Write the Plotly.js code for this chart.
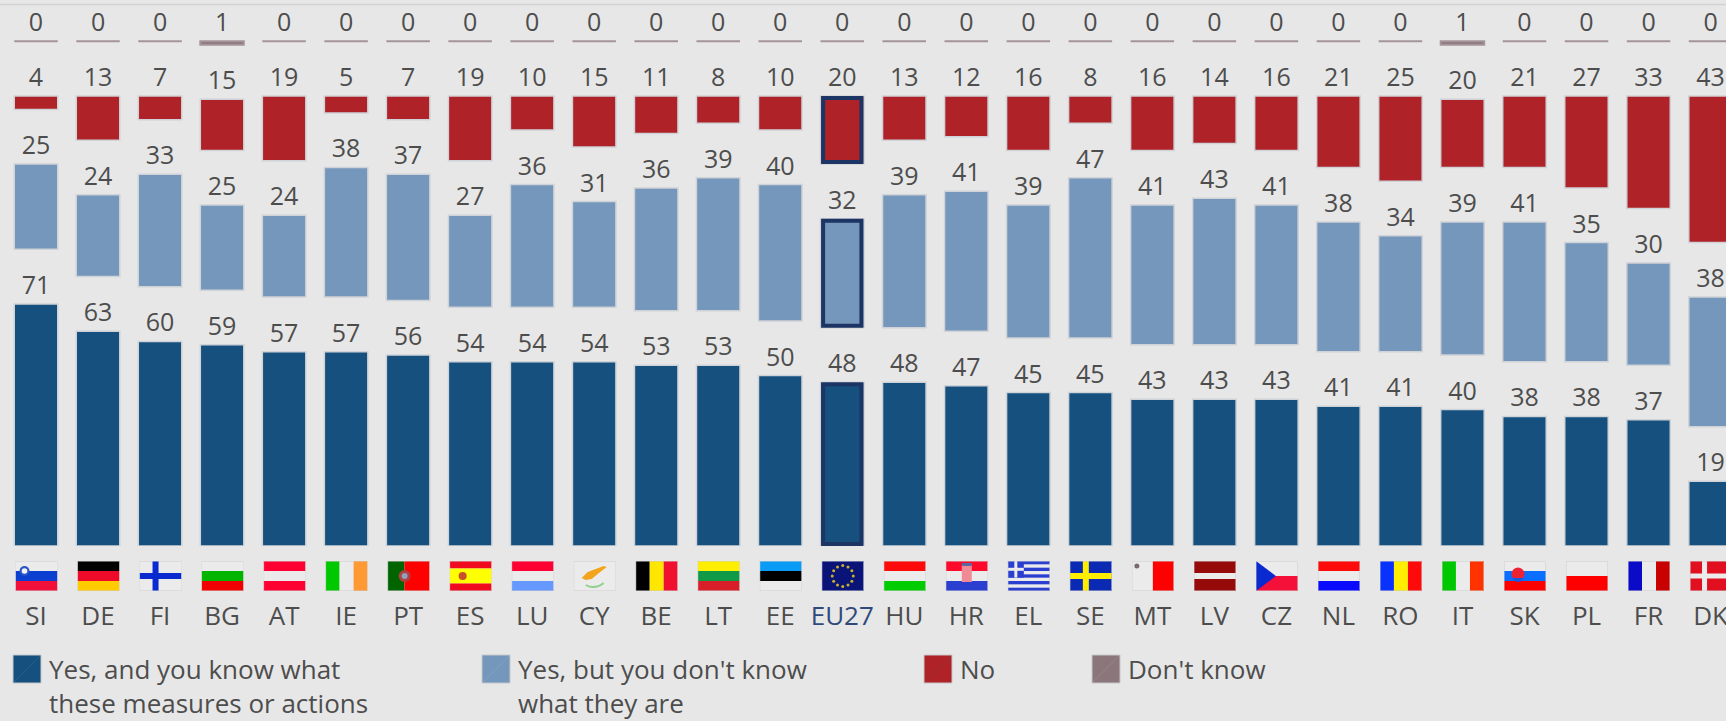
<!DOCTYPE html>
<html>
<head>
<meta charset="utf-8">
<script src="https://cdn.plot.ly/plotly-3.0.1.min.js"></script>
<style>
  html, body { margin: 0; padding: 0; background: #e7e7e7; overflow: hidden; }
  #chart { width: 1726px; height: 721px; }
</style>
</head>
<body>
<div id="chart"></div>
<script>
// Awareness of measures or actions, by country (%)
const countries = ['SI','DE','FI','BG','AT','IE','PT','ES','LU','CY','BE','LT','EE','EU27','HU','HR','EL','SE','MT','LV','CZ','NL','RO','IT','SK','PL','FR','DK'];
const yesKnow   = [71,63,60,59,57,57,56,54,54,54,53,53,50,48,48,47,45,45,43,43,43,41,41,40,38,38,37,19];
const yesUnsure = [25,24,33,25,24,38,37,27,36,31,36,39,40,32,39,41,39,47,41,43,41,38,34,39,41,35,30,38];
const no        = [4,13,7,15,19,5,7,19,10,15,11,8,10,20,13,12,16,8,16,14,16,21,25,20,21,27,33,43];
const dontKnow  = [0,0,0,1,0,0,0,0,0,0,0,0,0,0,0,0,0,0,0,0,0,0,0,1,0,0,0,0];

const seriesColors = { yesKnow: '#15507f', yesUnsure: '#7497bb', no: '#ae2228', dontKnow: '#8a767b' };
const swatchEdge = { yesKnow: '#275e8b', yesUnsure: '#82a2c3', no: '#9c2f33', dontKnow: '#958488' };

// Layout constants, in page pixels
const W = 1726, H = 721, AXIS_Y = 546, UNIT_PX = 3.41, GAP = 16;
const FIRST_X = 36, STEP_X = 62.02, BAR_PX = 43.5;
const HIGHLIGHT = 'EU27', HIGHLIGHT_COLOR = '#1c3564', HIGHLIGHT_LINE = 4, HALO = '#cfd2d6';
const TEXT = '#4d4d4d', FONT = '"Open Sans", sans-serif';

const px2x = p => p / W;
const px2y = p => (AXIS_Y - p) / AXIS_Y;

// Each response block floats above the previous one, separated by a blank band
const stack = [yesKnow, yesUnsure, no, dontKnow];
const keys = ['yesKnow', 'yesUnsure', 'no', 'dontKnow'];
const names = ['Yes, and you know what these measures or actions', "Yes, but you don't know what they are", 'No', "Don't know"];
const running = countries.map(() => 0);
const highlightIndex = countries.indexOf(HIGHLIGHT);
const shapes = [{
  type: 'line', xref: 'paper', yref: 'paper', layer: 'below',
  x0: 0, x1: 1, y0: px2y(4.5), y1: px2y(4.5),
  line: { color: '#d2d2d2', width: 1.5 }
}];

const traces = stack.map((values, s) => {
  const base = running.slice();
  values.forEach((v, i) => { running[i] += v + GAP; });
  const isDk = keys[s] === 'dontKnow';
  if (!isDk) {
    // The EU average is framed inside the edge of its bar
    const insetX = (HIGHLIGHT_LINE / 2 + 0.6) / STEP_X, insetY = (HIGHLIGHT_LINE / 2) / UNIT_PX;
    const half = BAR_PX / 2 / STEP_X;
    shapes.push({
      type: 'rect', xref: 'x', yref: 'y',
      x0: highlightIndex - half + insetX, x1: highlightIndex + half - insetX,
      y0: base[highlightIndex] + insetY, y1: base[highlightIndex] + values[highlightIndex] - insetY,
      fillcolor: 'rgba(0,0,0,0)', line: { color: HIGHLIGHT_COLOR, width: HIGHLIGHT_LINE }
    });
  }
  return {
    type: 'bar', name: names[s], x: countries, y: values, base: base,
    width: BAR_PX / STEP_X,
    text: values.map(String), textposition: 'outside', cliponaxis: false,
    textfont: { family: FONT, size: 25, color: TEXT },
    marker: {
      color: seriesColors[keys[s]],
      line: { color: isDk ? '#a5959a' : HALO, width: isDk ? 2 : 1.5 }
    },
    hoverinfo: 'x+y', showlegend: false
  };
});

// Flags, drawn on a 42 x 30 grid
const WHITE = '#ebebeb';
const hBands = (cols, w) => {
  const total = (w || cols.map(() => 1)).reduce((a, b) => a + b, 0);
  let y = 0;
  return cols.map((c, i) => {
    const h = 30 * (w ? w[i] : 1) / total;
    const r = `<rect x="0" y="${y}" width="42" height="${h}" fill="${c}"/>`;
    y += h;
    return r;
  }).join('');
};
const vBands = (cols, w) => {
  const total = (w || cols.map(() => 1)).reduce((a, b) => a + b, 0);
  let x = 0;
  return cols.map((c, i) => {
    const b = 42 * (w ? w[i] : 1) / total;
    const r = `<rect x="${x}" y="0" width="${b}" height="30" fill="${c}"/>`;
    x += b;
    return r;
  }).join('');
};
const rect = (x, y, w, h, c) => `<rect x="${x}" y="${y}" width="${w}" height="${h}" fill="${c}"/>`;
const euStars = Array.from({ length: 12 }, (_, k) => {
  const a = k * Math.PI / 6;
  return `<circle cx="${21 + 10.5 * Math.cos(a)}" cy="${15 + 10.5 * Math.sin(a)}" r="1.5" fill="#c9b22a"/>`;
}).join('');
const greekStripes = Array.from({ length: 5 }, (_, k) => rect(0, k * 6.67, 42, 3.33, '#2a3fd0')).join('');

const flags = {
  SI: hBands([WHITE, '#0a3fd0', '#f0103a']) + '<circle cx="9" cy="10" r="5" fill="#2a55c8"/><circle cx="9" cy="10" r="2.8" fill="#f4f4f4"/>',
  DE: hBands(['#000000', '#f00a2a', '#ffcc00']),
  FI: rect(0, 0, 42, 30, WHITE) + rect(13, 0, 6, 30, '#0a2ad0') + rect(0, 12, 42, 6, '#0a2ad0'),
  BG: hBands([WHITE, '#00b400', '#f00000']),
  AT: hBands(['#ff0033', WHITE, '#ff0033']),
  IE: vBands(['#00c800', WHITE, '#ff9933']),
  PT: vBands(['#006400', '#ff0000'], [2, 3]) + '<circle cx="17" cy="15" r="6" fill="#b04040"/><circle cx="17" cy="15" r="3" fill="#8fa0c0"/>',
  ES: hBands(['#f00a1e', '#ffff00', '#f00a1e'], [1, 2, 1]) + '<circle cx="13" cy="15" r="4" fill="#c8502a"/>',
  LU: hBands(['#ff0033', WHITE, '#6699ff']),
  CY: rect(0, 0, 42, 30, WHITE) + '<path d="M8 17 L14 11 L30 5 L33 6 L24 13 L18 18 L12 19 Z" fill="#f2a51c"/><path d="M12 24 Q21 29 30 22" stroke="#8fd08f" stroke-width="2" fill="none"/>',
  BE: vBands(['#000000', '#ffe600', '#f01030']),
  LT: hBands(['#ffee00', '#109a48', '#d81e28']),
  EE: hBands(['#0a9cf5', '#000000', WHITE]),
  EU27: rect(0, 0, 42, 30, '#0a1478') + euStars,
  HU: hBands(['#ff0a0a', WHITE, '#00cc00']),
  HR: hBands(['#ff0a2a', WHITE, '#2a3fd0']) + rect(16, 4, 10, 17, '#f08a96') + rect(16, 2, 10, 3, '#5a6aa0'),
  EL: rect(0, 0, 42, 30, WHITE) + greekStripes + rect(0, 0, 16, 16.6, '#2a3fd0') + rect(6.5, 0, 3, 16.6, WHITE) + rect(0, 6.8, 16, 3, WHITE),
  SE: rect(0, 0, 42, 30, '#0a2ab4') + rect(13, 0, 6, 30, '#ffee00') + rect(0, 12, 42, 6, '#ffee00'),
  MT: vBands([WHITE, '#ff0000'], [1, 1]) + '<circle cx="5" cy="5" r="2.5" fill="#7a6a6a"/>',
  LV: hBands(['#960a0a', WHITE, '#960a0a'], [2, 1, 2]),
  CZ: hBands([WHITE, '#f5103a']) + '<path d="M0 0 L20 15 L0 30 Z" fill="#0a2ad0"/>',
  NL: hBands(['#ff0a0a', WHITE, '#0a0aff']),
  RO: vBands(['#0a32ff', '#ffee00', '#ff0a0a']),
  IT: vBands(['#00c800', WHITE, '#ff3300']),
  SK: hBands([WHITE, '#0a6eff', '#ff0000']) + '<circle cx="14" cy="13" r="6.5" fill="#ee2233"/><path d="M8 17 Q14 25 20 17 Z" fill="#1a58e0"/>',
  PL: hBands([WHITE, '#ff0000']),
  FR: vBands(['#0a0ac8', WHITE, '#c80000']),
  DK: rect(0, 0, 42, 30, '#e01020') + rect(12, 0, 5, 30, WHITE) + rect(0, 12.5, 42, 5, WHITE)
};

const flagImage = (code, i) => {
  const svg = `<svg xmlns="http://www.w3.org/2000/svg" width="84" height="60" viewBox="0 0 42 30">${flags[code]}<rect x=".25" y=".25" width="41.5" height="29.5" fill="none" stroke="#cccccc" stroke-width=".5"/></svg>`;
  return {
    source: 'data:image/svg+xml,' + encodeURIComponent(svg),
    xref: 'paper', yref: 'paper',
    x: px2x(FIRST_X + STEP_X * i + 0.5), y: px2y(561),
    sizex: 42 / W, sizey: 30 / AXIS_Y,
    xanchor: 'center', yanchor: 'top', sizing: 'stretch', layer: 'above'
  };
};

// Key below the chart
const legendItems = [
  { key: 'yesKnow',   x: 13,   lines: ['Yes, and you know what', 'these measures or actions'] },
  { key: 'yesUnsure', x: 482,  lines: ["Yes, but you don't know", 'what they are'] },
  { key: 'no',        x: 924,  lines: ['No'] },
  { key: 'dontKnow',  x: 1092, lines: ["Don't know"] }
];
const SWATCH = 28, SWATCH_TOP = 655, LEGEND_TEXT_TOP = 650, TEXT_OFFSET = 35;

const annotations = [];
legendItems.forEach(item => {
  shapes.push({
    type: 'rect', xref: 'paper', yref: 'paper',
    x0: px2x(item.x), x1: px2x(item.x + SWATCH),
    y0: px2y(SWATCH_TOP), y1: px2y(SWATCH_TOP + SWATCH),
    fillcolor: seriesColors[item.key], line: { color: '#c4c8cc', width: 1 }
  });
  shapes.push({
    type: 'line', xref: 'paper', yref: 'paper',
    x0: px2x(item.x + 1), x1: px2x(item.x + SWATCH - 1),
    y0: px2y(SWATCH_TOP + SWATCH - 1), y1: px2y(SWATCH_TOP + 1),
    line: { color: swatchEdge[item.key], width: 1 }
  });
  annotations.push({
    xref: 'paper', yref: 'paper', showarrow: false,
    x: px2x(item.x + TEXT_OFFSET), y: px2y(LEGEND_TEXT_TOP),
    xanchor: 'left', yanchor: 'top', align: 'left', borderpad: 0,
    text: item.lines.join('<br>'),
    font: { family: FONT, size: 26, color: TEXT }
  });
});

const layout = {
  width: W, height: H,
  margin: { l: 0, r: 0, t: 0, b: H - AXIS_Y, pad: 0 },
  paper_bgcolor: '#e7e7e7', plot_bgcolor: '#e7e7e7',
  barmode: 'overlay', showlegend: false,
  xaxis: {
    type: 'category', categoryorder: 'array', categoryarray: countries,
    range: [-FIRST_X / STEP_X, (W - FIRST_X) / STEP_X],
    tickmode: 'array', tickvals: countries,
    ticktext: countries.map(c => c === HIGHLIGHT ? `<span style="color:#2f4a7a">${c}</span>` : c),
    tickangle: 0, ticks: '', showline: false, showgrid: false, zeroline: false,
    ticklabelstandoff: 52,
    tickfont: { family: FONT, size: 26, color: TEXT }
  },
  yaxis: { range: [0, AXIS_Y / UNIT_PX], visible: false, fixedrange: true },
  shapes: shapes, annotations: annotations,
  images: countries.map(flagImage)
};

Plotly.newPlot('chart', traces, layout, { displayModeBar: false, staticPlot: true });
</script>
</body>
</html>
